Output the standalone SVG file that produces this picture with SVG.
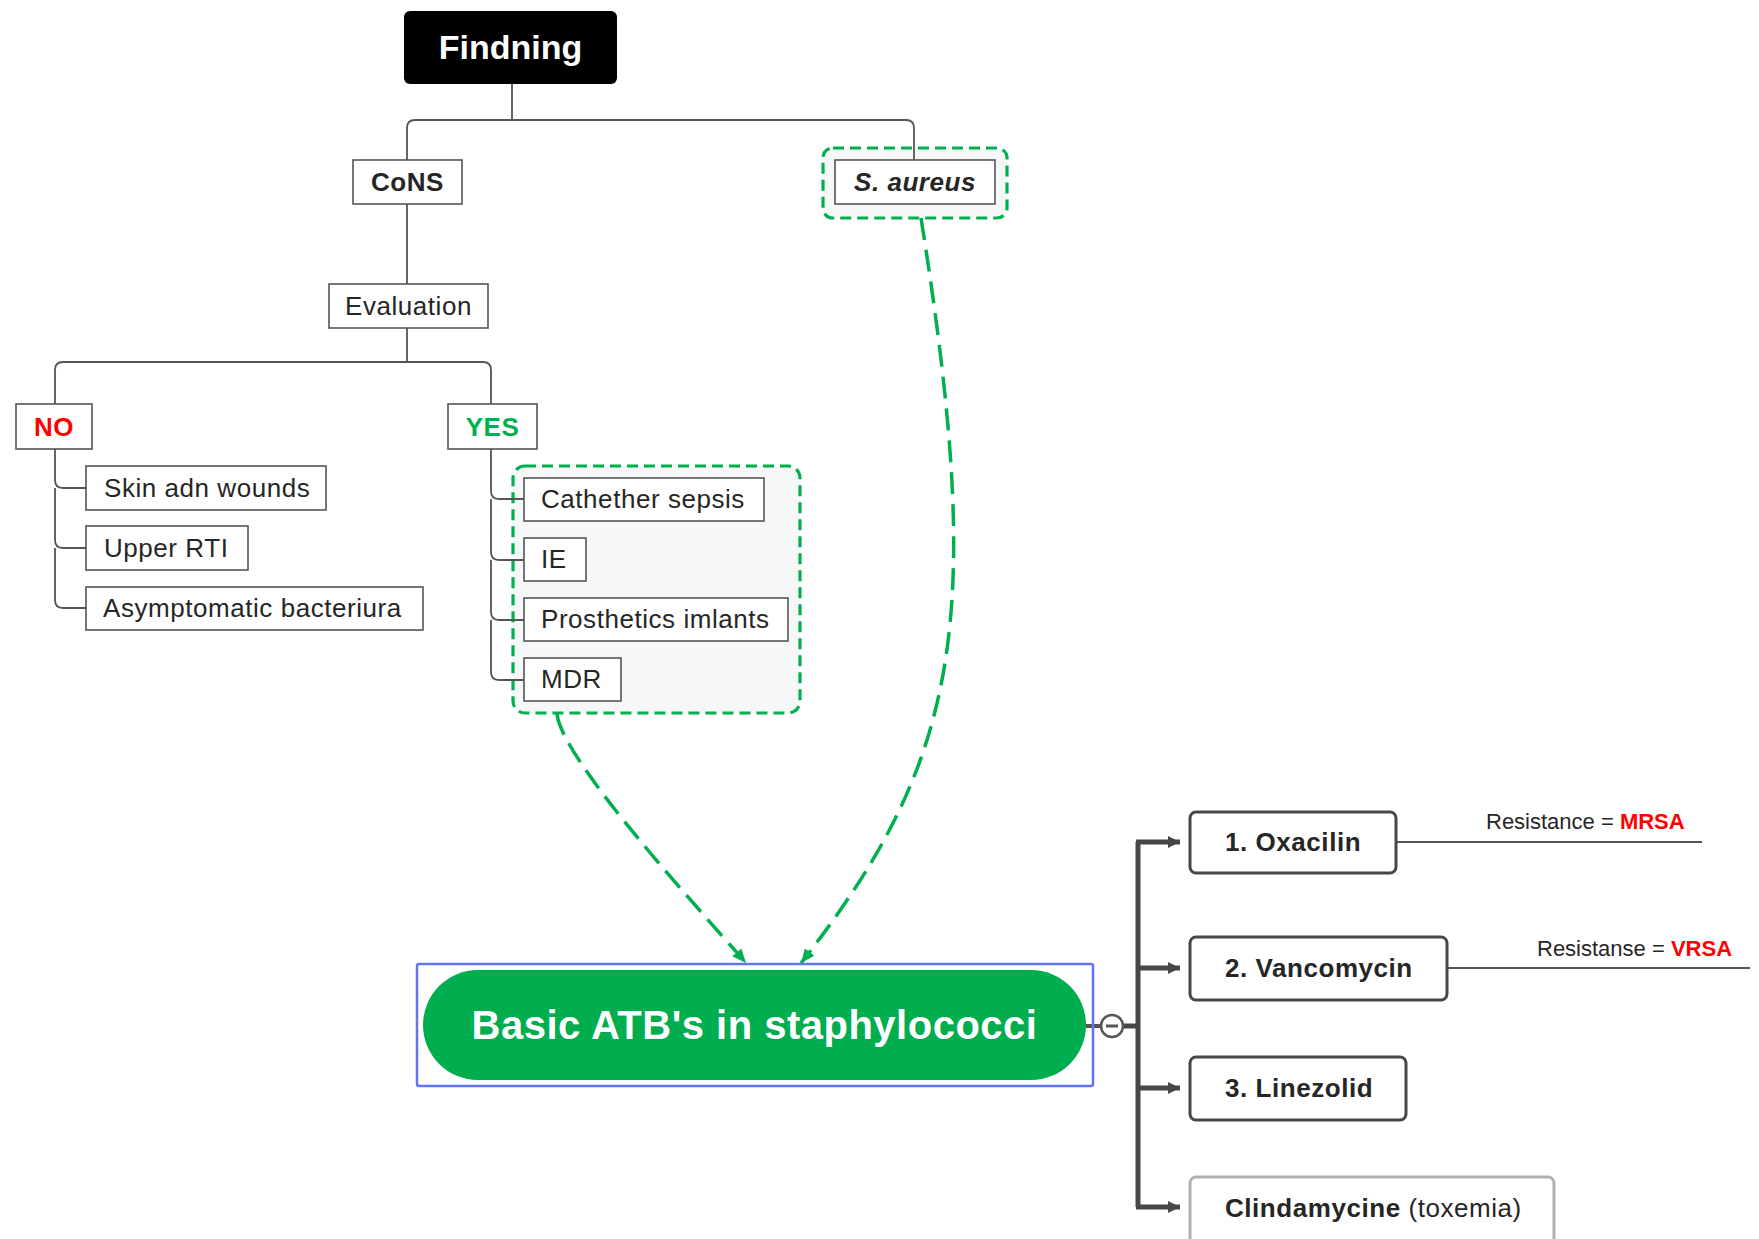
<svg xmlns="http://www.w3.org/2000/svg" width="1759" height="1239" viewBox="0 0 1759 1239">
<style>
text{font-family:"Liberation Sans",Arial,sans-serif;fill:#262626}
.t{font-size:26px;letter-spacing:0.55px}
.b{font-weight:bold}
.box{fill:#fff;stroke:#555;stroke-width:1.6}
.rbox{fill:#fff;stroke:#474747;stroke-width:3}
.tree{fill:none;stroke:#555;stroke-width:1.8}
.grp{fill:#f6f8f7;stroke:#00b050;stroke-width:3.2;stroke-dasharray:11 6}
.dash{fill:none;stroke:#00b050;stroke-width:3.5;stroke-dasharray:22 10}
.br{fill:none;stroke:#474747;stroke-width:5}
.res{font-size:22px}
.red{fill:#ff0000;font-weight:bold}
</style>
<defs>
<marker id="ga" markerUnits="userSpaceOnUse" markerWidth="16" markerHeight="16" refX="14" refY="8" orient="auto" viewBox="0 0 16 16">
<path d="M0 2 L14 8 L0 14 Z" fill="#00b050"/>
</marker>
<marker id="da" markerUnits="userSpaceOnUse" markerWidth="14" markerHeight="14" refX="12" refY="7" orient="auto" viewBox="0 0 14 14">
<path d="M0 1 L12 7 L0 13 Z" fill="#474747"/>
</marker>
</defs>

<g id="groups">
<rect id="yes-group" class="grp" x="513" y="466" width="287" height="247" rx="12"/>
<rect id="aureus-group" class="grp" x="823" y="148" width="184" height="70" rx="10"/>
</g>

<g id="connectors">
<path class="tree" d="M512 84 V120 M407 160 V128 Q407 120 415 120 H906 Q914 120 914 128 V160"/>
<path class="tree" d="M407 204 V284 M407 328 V362 M55 404 V370 Q55 362 63 362 H483 Q491 362 491 370 V404"/>
<path class="tree" d="M55 449 V480 Q55 488 63 488 H86 M55 488 V540 Q55 548 63 548 H86 M55 548 V600 Q55 608 63 608 H86"/>
<path class="tree" d="M491 449 V491 Q491 499 499 499 H524 M491 499 V552 Q491 560 499 560 H524 M491 560 V612 Q491 620 499 620 H524 M491 620 V672 Q491 680 499 680 H524"/>
<path class="dash" d="M557 714 C562 760 700 910 746 963" marker-end="url(#ga)"/>
<path class="dash" d="M921 218 C985 620 960 760 801 963" marker-end="url(#ga)"/>
<path d="M1086 1026 H1101" stroke="#555" stroke-width="4"/>
<path class="br" d="M1123 1026 H1138 M1138 842 V1207"/>
<path class="br" d="M1136 842 H1180" marker-end="url(#da)"/>
<path class="br" d="M1138 968 H1180" marker-end="url(#da)"/>
<path class="br" d="M1138 1088 H1180" marker-end="url(#da)"/>
<path class="br" d="M1136 1207 H1180" marker-end="url(#da)"/>
<path class="tree" d="M1396 842 H1702 M1447 968 H1750"/>
</g>

<g id="findning">
<rect x="404" y="11" width="213" height="73" rx="6" fill="#000"/>
<text x="510.5" y="59" text-anchor="middle" class="b" font-size="34" style="fill:#fff">Findning</text>
</g>
<g id="cons">
<rect class="box" x="353" y="160" width="109" height="44"/>
<text class="t b" x="407.5" y="191" text-anchor="middle">CoNS</text>
</g>
<g id="s-aureus">
<rect class="box" x="835" y="160" width="160" height="44"/>
<text class="t b" x="915" y="191" text-anchor="middle" font-style="italic">S. aureus</text>
</g>
<g id="evaluation">
<rect class="box" x="329" y="284" width="159" height="44"/>
<text class="t" x="408.5" y="315" text-anchor="middle">Evaluation</text>
</g>
<g id="no">
<rect class="box" x="16" y="404" width="76" height="45"/>
<text class="t b" x="54" y="436" text-anchor="middle" style="fill:#ff0000">NO</text>
</g>
<g id="yes">
<rect class="box" x="448" y="404" width="89" height="45"/>
<text class="t b" x="492.5" y="436" text-anchor="middle" style="fill:#00b050">YES</text>
</g>
<g id="skin">
<rect class="box" x="86" y="466" width="240" height="44"/>
<text class="t" x="104" y="497">Skin adn wounds</text>
</g>
<g id="upper-rti">
<rect class="box" x="86" y="526" width="162" height="44"/>
<text class="t" x="104" y="557">Upper RTI</text>
</g>
<g id="asymptomatic">
<rect class="box" x="86" y="587" width="337" height="43"/>
<text class="t" x="103" y="617">Asymptomatic bacteriura</text>
</g>
<g id="cathether">
<rect class="box" x="524" y="478" width="240" height="43"/>
<text class="t" x="541" y="508">Cathether sepsis</text>
</g>
<g id="ie">
<rect class="box" x="524" y="538" width="62" height="43"/>
<text class="t" x="541" y="568">IE</text>
</g>
<g id="prosthetics">
<rect class="box" x="524" y="598" width="264" height="43"/>
<text class="t" x="541" y="628">Prosthetics imlants</text>
</g>
<g id="mdr">
<rect class="box" x="524" y="658" width="97" height="43"/>
<text class="t" x="541" y="688">MDR</text>
</g>

<g id="basic-atb">
<rect x="417" y="964" width="676" height="122" fill="none" stroke="#6274f2" stroke-width="2.5" rx="2"/>
<rect x="423" y="970" width="663" height="110" rx="55" fill="#00ad4f"/>
<text x="754.5" y="1039" text-anchor="middle" class="b" font-size="40" letter-spacing="0.5" style="fill:#fff">Basic ATB's in staphylococci</text>
<circle cx="1112" cy="1026" r="11" fill="#fff" stroke="#555" stroke-width="2.5"/>
<path d="M1106 1026 H1118" stroke="#555" stroke-width="3"/>
</g>

<g id="oxacilin">
<rect class="rbox" x="1190" y="812" width="206" height="61" rx="6"/>
<text class="t b" x="1225" y="851">1. Oxacilin</text>
</g>
<g id="vancomycin">
<rect class="rbox" x="1190" y="937" width="257" height="63" rx="6"/>
<text class="t b" x="1225" y="977">2. Vancomycin</text>
</g>
<g id="linezolid">
<rect class="rbox" x="1190" y="1057" width="216" height="63" rx="6"/>
<text class="t b" x="1225" y="1097">3. Linezolid</text>
</g>
<g id="clindamycine">
<rect x="1190" y="1177" width="364" height="72" rx="6" fill="#fff" stroke="#b0b0b0" stroke-width="3"/>
<text class="t" x="1225" y="1217"><tspan class="b">Clindamycine</tspan> (toxemia)</text>
</g>
<g id="mrsa-label">
<text class="res" x="1486" y="829">Resistance = <tspan class="red">MRSA</tspan></text>
</g>
<g id="vrsa-label">
<text class="res" x="1537" y="956">Resistanse = <tspan class="red">VRSA</tspan></text>
</g>
</svg>
